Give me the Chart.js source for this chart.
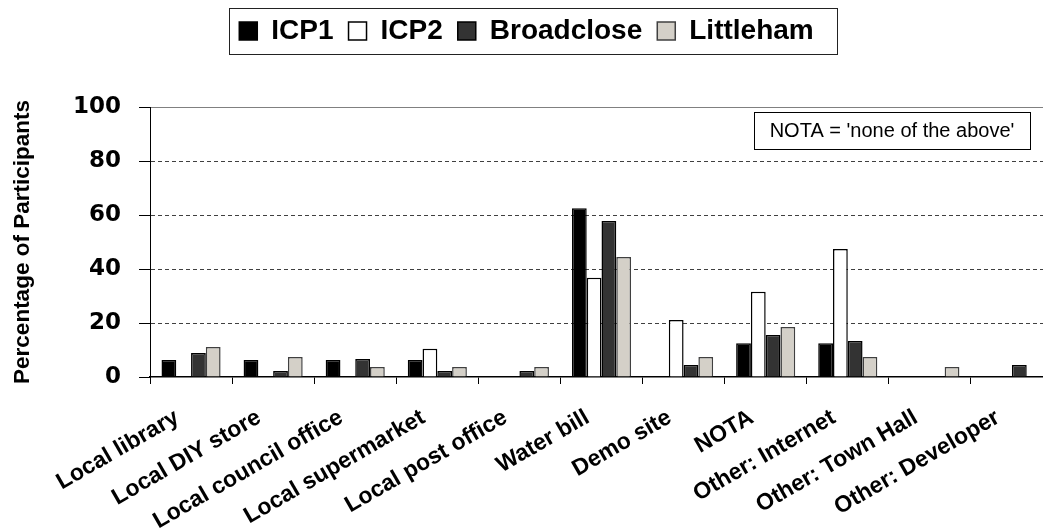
<!DOCTYPE html>
<html><head><meta charset="utf-8">
<script src="https://cdn.jsdelivr.net/npm/chart.js@4"></script>
<style>html,body{margin:0;padding:0;background:#fff;overflow:hidden}
#wrap{position:absolute;left:0;top:0;width:1053px;height:532px}</style>
</head><body><div id="wrap"><canvas id="c"></canvas></div>
<script>
const categories = ['Local library','Local DIY store','Local council office','Local supermarket','Local post office','Water bill','Demo site','NOTA','Other: Internet','Other: Town Hall','Other: Developer'];
const seriesNames = ['ICP1','ICP2','Broadclose','Littleham'];
const icp1 = [6.3,6.3,6.3,6.3,0,62.5,0,12.5,12.5,0,0];
const icp2 = [0,0,0,10.5,0,36.8,21.1,31.6,47.4,0,0];
const broadclose = [8.9,2.2,6.7,2.2,2.2,57.8,4.4,15.6,13.3,0,4.4];
const littleham = [11.1,7.4,3.7,3.7,3.7,44.4,7.4,18.5,7.4,3.7,0];
const yTicks = [0,20,40,60,80,100];
const yTitle = 'Percentage of Participants';
const noteText = "NOTA = 'none of the above'";

const fills = ['#000000','#ffffff','#333333','#d4d0c8'];
const borders = ['#000000','#000000','#000000','#404040'];
const values = [icp1, icp2, broadclose, littleham];

const decor = {
  id: 'decor',
  beforeLayout(chart) {
    const lg = chart.legend;
    if (lg && !lg._fitPatched) {
      const orig = lg.fit;
      lg.fit = function () { orig.call(this); this.height = 105; };
      lg._fitPatched = true;
    }
  },
  afterDraw(chart) {
    const ctx = chart.ctx;
    ctx.save();
    const hb = chart.legend && chart.legend.legendHitBoxes;
    if (hb && hb.length) {
      const l = Math.min(...hb.map(h => h.left)) - 10;
      const r = Math.max(...hb.map(h => h.left + h.width)) + 24;
      const t = hb[0].top - 9;
      const b = hb[0].top + hb[0].height + 9;
      ctx.strokeStyle = '#222';
      ctx.lineWidth = 1;
      ctx.strokeRect(Math.round(l) + 0.5, Math.round(t) + 0.5, Math.round(r - l), Math.round(b - t));
    }
    const ca = chart.chartArea;
    ctx.font = '20px "Liberation Sans", Arial, sans-serif';
    const tw = ctx.measureText(noteText).width;
    const w = Math.round(tw + 31), h = 37;
    const x = Math.round(ca.right - 23 - w), y = Math.round(ca.top + 5);
    ctx.fillStyle = '#fff';
    ctx.fillRect(x, y, w, h);
    ctx.strokeStyle = '#000';
    ctx.lineWidth = 1;
    ctx.strokeRect(x + 0.5, y + 0.5, w, h);
    ctx.fillStyle = '#000';
    ctx.textAlign = 'center';
    ctx.textBaseline = 'middle';
    ctx.fillText(noteText, x + w / 2, y + h / 2 + 1);
    ctx.restore();
  }
};

new Chart(document.getElementById('c'), {
  type: 'bar',
  data: {
    labels: categories,
    datasets: seriesNames.map((n, i) => ({
      label: n,
      data: values[i],
      backgroundColor: fills[i],
      borderColor: borders[i],
      borderWidth: 1.5,
      categoryPercentage: 0.72,
      barPercentage: 1.0
    }))
  },
  options: {
    responsive: true,
    maintainAspectRatio: false,
    animation: false,
    layout: { padding: { top: 2, left: 0, right: 0, bottom: 0 } },
    plugins: {
      tooltip: { enabled: false },
      legend: {
        position: 'top',
        labels: {
          font: { family: 'Liberation Sans', size: 28, weight: 'bold' },
          color: '#000',
          boxWidth: 18,
          boxHeight: 18,
          padding: 15
        }
      }
    },
    scales: {
      x: {
        afterFit: s => { s.height = 155; },
        grid: { display: true, drawOnChartArea: false, drawTicks: true, tickLength: 7, tickColor: '#000', color: '#000', offset: true },
        border: { display: true, color: '#000', width: 1.5 },
        ticks: {
          font: { family: 'Liberation Sans', size: 23, weight: 'bold' },
          color: '#000',
          minRotation: 30,
          maxRotation: 30,
          autoSkip: false,
          padding: 20,
          labelOffset: -14
        }
      },
      y: {
        min: 0,
        max: 100,
        afterBuildTicks: s => { s.ticks = yTicks.map(v => ({ value: v })); },
        afterFit: s => { s.width = 150; },
        ticks: {
          font: { family: 'DejaVu Sans', size: 23, weight: 'bold' },
          color: '#000',
          padding: 18
        },
        grid: {
          color: c => (c.tick && c.tick.value === 100) ? '#808080' : (c.tick && c.tick.value === 0) ? 'rgba(0,0,0,0)' : '#404040',
          lineWidth: 1,
          tickLength: 11,
          tickColor: '#000',
          drawTicks: true
        },
        border: {
          display: true,
          color: '#000',
          width: 1,
          dash: c => (c.tick && c.tick.value === 100) ? [] : [4, 3]
        },
        title: {
          display: true,
          text: yTitle,
          font: { family: 'Liberation Sans', size: 22.5, weight: 'bold' },
          color: '#000',
          padding: { top: 9, bottom: 0 }
        }
      }
    }
  },
  plugins: [decor]
});
</script>
</body></html>
